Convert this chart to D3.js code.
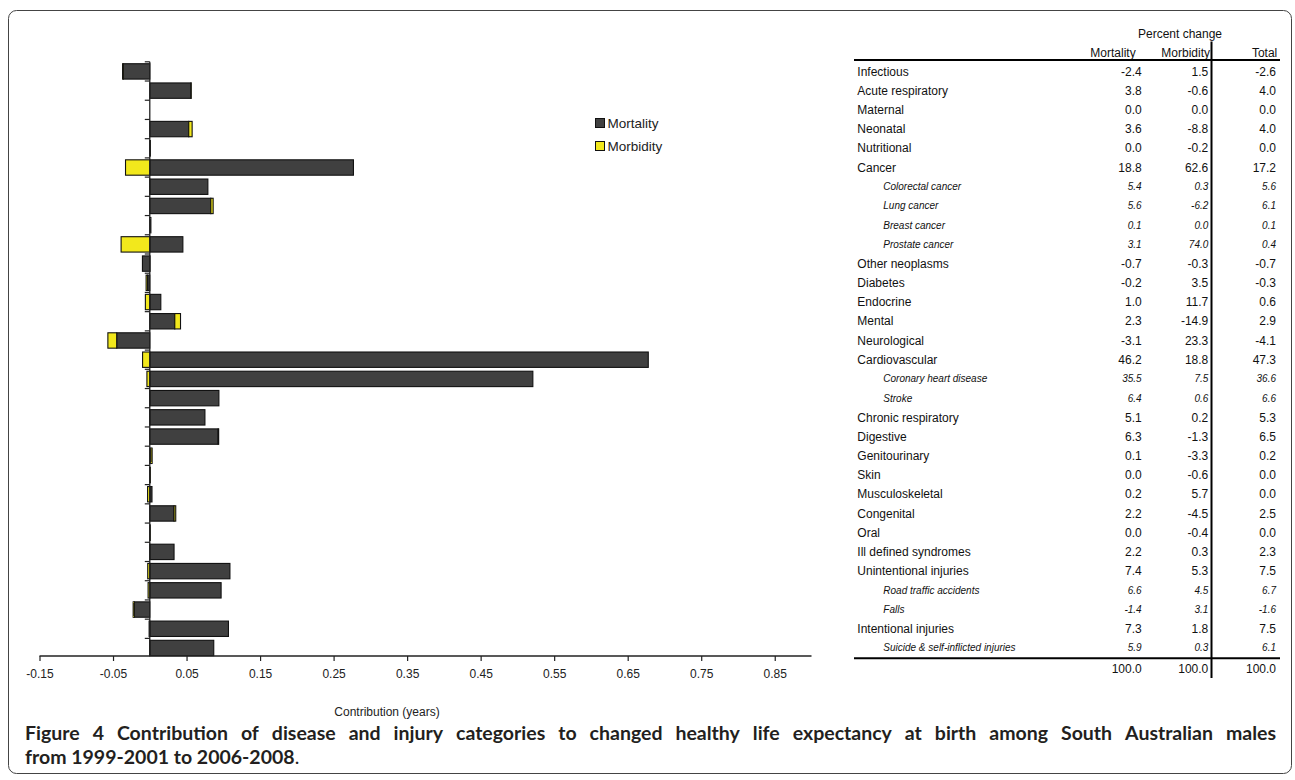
<!DOCTYPE html>
<html>
<head>
<meta charset="utf-8">
<script src="https://cdn.jsdelivr.net/npm/d3@7"></script>
<style>
    body { margin: 0; background: #fff; }
    svg { display: block; }
    .tbl { font-family: "Liberation Sans", Arial, sans-serif; font-size: 12px; fill: #111; }
    .tbl.sub { font-size: 10px; font-style: italic; }
    .axis text { font-family: "Liberation Sans", Arial, sans-serif; font-size: 12px; fill: #222; }
</style>
</head>
<body>
<div id="chart"></div>
<script>
// categories, top to bottom (sub = italic sub-category rows)
var categories = ["Infectious", "Acute respiratory", "Maternal", "Neonatal", "Nutritional", "Cancer",
    "Colorectal cancer", "Lung cancer", "Breast cancer", "Prostate cancer", "Other neoplasms", "Diabetes",
    "Endocrine", "Mental", "Neurological", "Cardiovascular", "Coronary heart disease", "Stroke",
    "Chronic respiratory", "Digestive", "Genitourinary", "Skin", "Musculoskeletal", "Congenital", "Oral",
    "Ill defined syndromes", "Unintentional injuries", "Road traffic accidents", "Falls",
    "Intentional injuries", "Suicide & self-inflicted injuries"];
var subRows = ["Colorectal cancer", "Lung cancer", "Breast cancer", "Prostate cancer",
    "Coronary heart disease", "Stroke", "Road traffic accidents", "Falls", "Suicide & self-inflicted injuries"];

// contribution (years)
var mortality = [-0.036, 0.056, 0, 0.053, 0.0005, 0.277, 0.079, 0.083, 0.0015, 0.045, -0.010, -0.003,
    0.015, 0.034, -0.045, 0.678, 0.521, 0.094, 0.075, 0.093, 0.0015, 0.0003, 0.003, 0.033, 0.0003,
    0.033, 0.109, 0.097, -0.021, 0.107, 0.087];
var morbidity = [-0.001, 0.0003, 0, 0.0046, 0.0001, -0.033, -0.0002, 0.0032, 0, -0.039, 0.0002, -0.002,
    -0.006, 0.0078, -0.012, -0.0098, -0.0039, -0.0003, -0.0001, 0.0007, 0.0017, 0.0003, -0.003, 0.0023,
    0.0002, -0.0002, -0.0028, -0.0023, -0.0016, -0.0009, -0.0002];

// percent change table
var pctMortality = [-2.4, 3.8, 0.0, 3.6, 0.0, 18.8, 5.4, 5.6, 0.1, 3.1, -0.7, -0.2, 1.0, 2.3, -3.1, 46.2,
    35.5, 6.4, 5.1, 6.3, 0.1, 0.0, 0.2, 2.2, 0.0, 2.2, 7.4, 6.6, -1.4, 7.3, 5.9];
var pctMorbidity = [1.5, -0.6, 0.0, -8.8, -0.2, 62.6, 0.3, -6.2, 0.0, 74.0, -0.3, 3.5, 11.7, -14.9, 23.3,
    18.8, 7.5, 0.6, 0.2, -1.3, -3.3, -0.6, 5.7, -4.5, -0.4, 0.3, 5.3, 4.5, 3.1, 1.8, 0.3];
var pctTotal = [-2.6, 4.0, 0.0, 4.0, 0.0, 17.2, 5.6, 6.1, 0.1, 0.4, -0.7, -0.3, 0.6, 2.9, -4.1, 47.3,
    36.6, 6.6, 5.3, 6.5, 0.2, 0.0, 0.0, 2.5, 0.0, 2.3, 7.5, 6.7, -1.6, 7.5, 6.1];
var pctTotals = [100.0, 100.0, 100.0];

var xTicks = [-0.15, -0.05, 0.05, 0.15, 0.25, 0.35, 0.45, 0.55, 0.65, 0.75, 0.85];
var seriesNames = ["Mortality", "Morbidity"];
var colors = {Mortality: "#404040", Morbidity: "#f2e81c"};

var width = 1295, height = 780;

var svg = d3.select("#chart").append("svg")
    .attr("width", width)
    .attr("height", height);

// figure frame
svg.append("rect")
    .attr("x", 8.5).attr("y", 10.5)
    .attr("width", 1283).attr("height", 763)
    .attr("rx", 8)
    .attr("fill", "none")
    .attr("stroke", "#444")
    .attr("stroke-width", 1);

var x = d3.scaleLinear().domain([-0.15, 0.9]).range([39.5, 811.5]);
var y = d3.scaleBand().domain(categories).range([61.8, 657.6]).paddingInner(0.2).paddingOuter(0.1);
var axisY = 656;

var rows = categories.map(function(c, i) {
    return {name: c, Mortality: mortality[i], Morbidity: morbidity[i]};
});

var stack = d3.stack().keys(seriesNames).offset(d3.stackOffsetDiverging);
var series = stack(rows);

var g = svg.append("g");

// bars
g.selectAll(".series").data(series).enter().append("g")
    .attr("class", "series")
    .attr("fill", function(s) { return colors[s.key]; })
    .selectAll("rect")
    .data(function(s) { return s; })
    .enter().append("rect")
    .attr("x", function(d) { return x(Math.min(d[0], d[1])); })
    .attr("y", function(d) { return y(d.data.name); })
    .attr("width", function(d) { return Math.abs(x(d[1]) - x(d[0])); })
    .attr("height", y.bandwidth())
    .attr("stroke", "#111")
    .attr("stroke-width", 1.1);

// x axis (plain hyphen for negatives)
var xAxis = g.append("g")
    .attr("class", "axis")
    .attr("transform", "translate(0," + axisY + ")")
    .call(d3.axisBottom(x).tickValues(xTicks).tickSize(5).tickSizeOuter(0).tickPadding(8)
        .tickFormat(function(d) { return d.toFixed(2); }));
xAxis.select(".domain").attr("stroke", "#222").attr("stroke-width", 1.3)
    .attr("d", "M" + x(-0.15) + ",0H" + x(0.9));
xAxis.selectAll(".tick line").attr("stroke", "#222").attr("stroke-width", 1.2);

g.append("text")
    .attr("x", 387).attr("y", 716)
    .attr("text-anchor", "middle")
    .style("font-family", "Liberation Sans, Arial, sans-serif")
    .style("font-size", "12px")
    .attr("fill", "#222")
    .text("Contribution (years)");

// y axis at zero with ticks between the rows
var bounds = d3.range(categories.length + 1).map(function(i) {
    return y.range()[0] + i * y.step();
});
g.append("line")
    .attr("x1", x(0)).attr("x2", x(0))
    .attr("y1", bounds[0]).attr("y2", axisY)
    .attr("stroke", "#222").attr("stroke-width", 1.3);
g.selectAll(".ytick").data(bounds.slice(0, -1)).enter().append("line")
    .attr("class", "ytick")
    .attr("x1", x(0) - 5).attr("x2", x(0))
    .attr("y1", function(d) { return d; })
    .attr("y2", function(d) { return d; })
    .attr("stroke", "#222").attr("stroke-width", 1.2);

// legend
var legend = g.selectAll(".legend").data(seriesNames).enter().append("g")
    .attr("class", "legend")
    .attr("transform", function(d, i) { return "translate(595.5," + (118.5 + i * 23) + ")"; });
legend.append("rect")
    .attr("width", 9).attr("height", 9)
    .attr("fill", function(d) { return colors[d]; })
    .attr("stroke", "#111").attr("stroke-width", 1);
legend.append("text")
    .attr("x", 12).attr("y", 4.5).attr("dy", "0.35em")
    .style("font-family", "Liberation Sans, Arial, sans-serif")
    .style("font-size", "13.5px")
    .attr("fill", "#222")
    .text(function(d) { return d; });

// table
var colRight = [1141.7, 1208.3, 1276];
var tbl = svg.append("g");
tbl.append("text").attr("class", "tbl")
    .attr("x", 1180).attr("y", 33.3).attr("dy", "0.35em")
    .attr("text-anchor", "middle").text("Percent change");
[["Mortality", 1135.7], ["Morbidity", 1210], ["Total", 1277.3]].forEach(function(h) {
    tbl.append("text").attr("class", "tbl")
        .attr("x", h[1]).attr("y", 52.3).attr("dy", "0.35em")
        .attr("text-anchor", "end").text(h[0]);
});
tbl.append("line").attr("x1", 854).attr("x2", 1280).attr("y1", 60).attr("y2", 60)
    .attr("stroke", "#000").attr("stroke-width", 2);
tbl.append("line").attr("x1", 854).attr("x2", 1280).attr("y1", 658.3).attr("y2", 658.3)
    .attr("stroke", "#000").attr("stroke-width", 2);
tbl.append("line").attr("x1", 1211.5).attr("x2", 1211.5).attr("y1", 41.5).attr("y2", 678)
    .attr("stroke", "#000").attr("stroke-width", 2);

var tRow = tbl.selectAll(".trow").data(categories).enter().append("g")
    .attr("class", "trow")
    .attr("transform", function(d) { return "translate(0," + (y(d) + y.bandwidth() / 2) + ")"; });
tRow.append("text")
    .attr("class", function(d) { return subRows.indexOf(d) >= 0 ? "tbl sub" : "tbl"; })
    .attr("x", function(d) { return subRows.indexOf(d) >= 0 ? 883.3 : 857.3; })
    .attr("dy", "0.35em")
    .text(function(d) { return d; });
[pctMortality, pctMorbidity, pctTotal].forEach(function(col, j) {
    tRow.append("text")
        .attr("class", function(d) { return subRows.indexOf(d) >= 0 ? "tbl sub" : "tbl"; })
        .attr("x", colRight[j])
        .attr("dy", "0.35em")
        .attr("text-anchor", "end")
        .text(function(d, i) { return col[i].toFixed(1); });
});
pctTotals.forEach(function(v, j) {
    tbl.append("text").attr("class", "tbl")
        .attr("x", colRight[j]).attr("y", 669).attr("dy", "0.35em")
        .attr("text-anchor", "end").text(v.toFixed(1));
});

// caption, first line justified
var capFont = "Lato, 'Open Sans', sans-serif";
var capSize = 19.5;
var line1 = "Figure 4 Contribution of disease and injury categories to changed healthy life expectancy at birth among South Australian males".split(" ");
var capLeft = 25, capRight = 1276;
var cap1 = svg.append("g");
var words = cap1.selectAll("text").data(line1).enter().append("text")
    .attr("y", 740)
    .style("font-family", capFont)
    .style("font-size", capSize + "px")
    .style("font-weight", "bold")
    .attr("fill", "#231f20")
    .text(function(d) { return d; });
var lens = [];
words.each(function() { lens.push(this.getComputedTextLength()); });
var gap = (capRight - capLeft - d3.sum(lens)) / (line1.length - 1);
var cx = capLeft;
words.attr("x", function(d, i) { var p = cx; cx += lens[i] + gap; return p; });

var cap2 = svg.append("text")
    .attr("x", capLeft).attr("y", 764)
    .style("font-family", capFont)
    .style("font-size", capSize + "px")
    .attr("fill", "#231f20");
cap2.append("tspan").style("font-weight", "bold").text("from 1999-2001 to 2006-2008");
cap2.append("tspan").text(".");
</script>
</body>
</html>
